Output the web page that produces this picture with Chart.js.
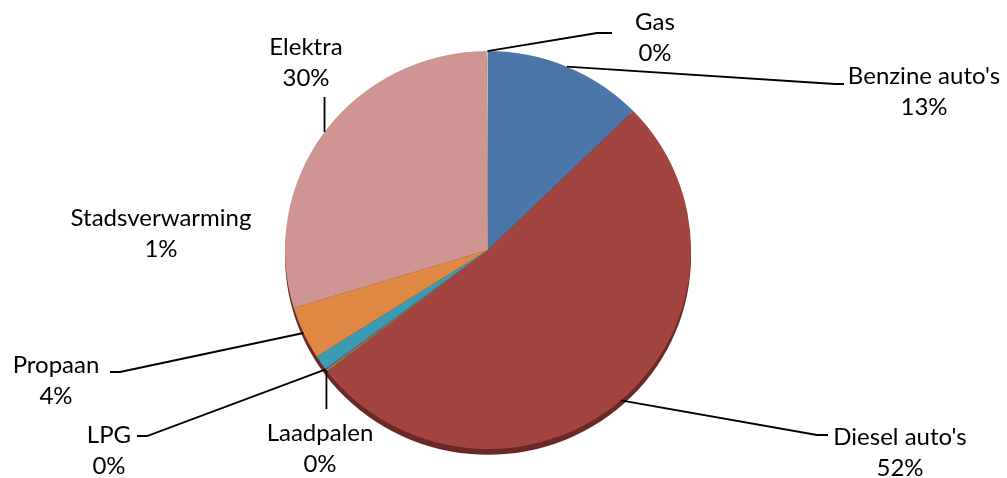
<!DOCTYPE html>
<html>
<head>
<meta charset="utf-8">
<script src="https://cdn.jsdelivr.net/npm/chart.js@4.4.1/dist/chart.umd.min.js"></script>
<style>
html,body{margin:0;padding:0;background:#fff;}
#wrap{width:1007px;height:478px;position:relative;}
</style>
</head>
<body>
<div id="wrap"><canvas id="c" width="1007" height="478"></canvas></div>
<script>
const categories = ["Benzine auto's", "Diesel auto's", "Laadpalen", "LPG", "Stadsverwarming", "Propaan", "Elektra", "Gas"];
const values = [12.7, 51.9, 0.1, 0.1, 1.2, 4.3, 29.6, 0.1];
const colors = ["#4a76a9", "#a2443f", "#8aa653", "#72598f", "#3b9bb2", "#de8843", "#cf9592", "#b3c98e"];

// label layout (text centre, leader path end points)
const labelLayout = [
  {tx: 924, ty: 76, path: [[835, 84], [844, 84]]},
  {tx: 900, ty: 437, path: [[817, 435], [828, 435]]},
  {tx: 320, ty: 433, path: [[null, 409]]},
  {tx: 109, ty: 435, path: [[147, 436], [137, 436]]},
  {tx: 161, ty: 218, path: null},
  {tx: 56, ty: 365, path: [[120, 372], [110, 372]]},
  {tx: 306, ty: 47, path: [[null, 97]]},
  {tx: 655, ty: 22, path: [[597, 33], [612, 33]]}
];

const SY = 0.98;
const FONT = '24px Lato';

const piePlugin = {
  id: 'pie3d',
  beforeDatasetsDraw(chart) {
    const arc = chart.getDatasetMeta(0).data[0];
    const cx = arc.x, cy = arc.y, r = arc.outerRadius;
    const ctx = chart.ctx;
    ctx.save();
    ctx.translate(cx, cy); ctx.scale(1, SY); ctx.translate(-cx, -cy);
    ctx.fillStyle = '#6a2826';
    ctx.beginPath();
    ctx.arc(cx, cy + 6, r, 0, Math.PI * 2);
    ctx.fill();
  },
  afterDatasetsDraw(chart) {
    chart.ctx.restore();
  },
  afterDraw(chart) {
    const ctx = chart.ctx;
    const meta = chart.getDatasetMeta(0);
    const total = values.reduce((a, b) => a + b, 0);
    ctx.save();
    ctx.strokeStyle = '#000';
    ctx.lineWidth = 1.8;
    meta.data.forEach((a, i) => {
      const L = labelLayout[i];
      const mid = (a.startAngle + a.endAngle) / 2;
      const sx = a.x + Math.cos(mid) * a.outerRadius;
      const sy = a.y + Math.sin(mid) * a.outerRadius * SY;
      if (L.path) {
        ctx.beginPath();
        ctx.moveTo(sx, sy);
        L.path.forEach(p => ctx.lineTo(p[0] === null ? sx : p[0], p[1]));
        ctx.stroke();
      }
      ctx.fillStyle = '#000';
      ctx.font = FONT;
      ctx.textAlign = 'center';
      ctx.textBaseline = 'middle';
      ctx.fillText(categories[i], L.tx, L.ty);
      ctx.fillText(Math.round(values[i] / total * 100) + '%', L.tx, L.ty + 31);
    });
    ctx.restore();
  }
};

new Chart(document.getElementById('c'), {
  type: 'pie',
  data: {
    labels: categories,
    datasets: [{data: values, backgroundColor: colors, borderWidth: 0}]
  },
  options: {
    responsive: false,
    animation: false,
    layout: {padding: {top: 47, bottom: 25, left: 0, right: 31}},
    plugins: {legend: {display: false}, tooltip: {enabled: false}}
  },
  plugins: [piePlugin]
});
</script>
</body>
</html>
